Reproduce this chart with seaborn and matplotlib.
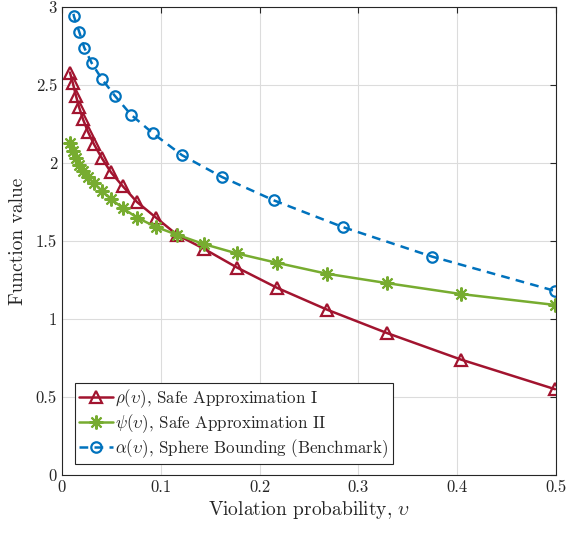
import matplotlib
matplotlib.use("Agg")
import matplotlib.pyplot as plt
import seaborn as sns
import pandas as pd

# Violation probability grid shared by the two safe approximations
v_safe = [0.0081, 0.0111, 0.0142, 0.0172, 0.0213, 0.0263, 0.0324, 0.0405,
          0.0496, 0.0617, 0.0759, 0.0951, 0.1164, 0.1437, 0.1771, 0.2176,
          0.2682, 0.3289, 0.4038, 0.4990]
rho = [2.58, 2.51, 2.43, 2.36, 2.28, 2.20, 2.12, 2.03, 1.94, 1.85,
       1.75, 1.65, 1.54, 1.45, 1.33, 1.20, 1.06, 0.91, 0.74, 0.55]
psi = [2.13, 2.08, 2.03, 1.99, 1.95, 1.91, 1.87, 1.82, 1.77, 1.71,
       1.65, 1.59, 1.54, 1.48, 1.42, 1.36, 1.29, 1.23, 1.16, 1.09]

# Sphere-bounding benchmark
v_sphere = [0.0085, 0.0121, 0.0175, 0.0225, 0.0301, 0.0402, 0.0536, 0.0698,
            0.0921, 0.1215, 0.1620, 0.2146, 0.2840, 0.3745, 0.4990]
alpha = [3.08, 2.94, 2.84, 2.74, 2.64, 2.54, 2.43, 2.31, 2.19, 2.05,
         1.91, 1.76, 1.59, 1.40, 1.18]

x_ticks = [0, 0.1, 0.2, 0.3, 0.4, 0.5]
y_ticks = [0, 0.5, 1, 1.5, 2, 2.5, 3]

labels = [r"$\rho(\upsilon)$, Safe Approximation I",
          r"$\psi(\upsilon)$, Safe Approximation II",
          r"$\alpha(\upsilon)$, Sphere Bounding (Benchmark)"]

sns.set_style("white")
plt.rcParams.update({
    "font.family": "serif",
    "font.serif": ["cmr10", "DejaVu Serif"],
    "mathtext.fontset": "cm",
    "axes.formatter.use_mathtext": True,
    "axes.unicode_minus": False,
})

RED = "#A2142F"
GREEN = "#77AC30"
BLUE = "#0072BD"

fig = plt.figure(figsize=(5.67, 5.34), dpi=100)
ax = fig.add_axes([0.1093, 0.1105, 0.8713, 0.8764])

df_rho = pd.DataFrame({"v": v_safe, "f": rho})
df_psi = pd.DataFrame({"v": v_safe, "f": psi})
df_alpha = pd.DataFrame({"v": v_sphere, "f": alpha})

sns.lineplot(data=df_rho, x="v", y="f", ax=ax, sort=False, estimator=None,
             color=RED, lw=1.8, marker="^", ms=8, mfc="none", mec=RED,
             mew=1.6, label=labels[0])
sns.lineplot(data=df_psi, x="v", y="f", ax=ax, sort=False, estimator=None,
             color=GREEN, lw=1.8, marker=(8, 2, 0), ms=10, mfc="none",
             mec=GREEN, mew=1.5, label=labels[1])
sns.lineplot(data=df_alpha, x="v", y="f", ax=ax, sort=False, estimator=None,
             color=BLUE, lw=1.8, marker="o", ms=7.5, mfc="none", mec=BLUE,
             mew=1.6, dashes=(3.5, 2.5), label=labels[2])

ax.set_xlim(0, 0.5)
ax.set_ylim(0, 3)
ax.set_xticks(x_ticks)
ax.set_yticks(y_ticks)
ax.set_xticklabels(["0", "0.1", "0.2", "0.3", "0.4", "0.5"])
ax.set_yticklabels(["0", "0.5", "1", "1.5", "2", "2.5", "3"])
ax.tick_params(direction="in", length=4, width=0.8, labelsize=12,
               top=True, right=True, colors="#262626", labelcolor="#262626")
ax.grid(True, color="#dcdcdc", linewidth=0.8)
ax.set_axisbelow(True)
for sp in ax.spines.values():
    sp.set_color("#262626")
    sp.set_linewidth(0.8)

ax.set_xlabel(r"Violation probability, $\upsilon$", fontsize=14,
              color="#262626", labelpad=3)
ax.set_ylabel("Function value", fontsize=14, color="#262626", labelpad=6)

leg = ax.legend(loc="lower left", bbox_to_anchor=(0.026, 0.024),
                borderaxespad=0, fontsize=12.2, frameon=True, fancybox=False,
                framealpha=1, edgecolor="#262626", handlelength=2.0,
                handletextpad=0.15, borderpad=0.25, labelspacing=0.12,
                numpoints=1)
leg.get_frame().set_linewidth(0.8)

fig.savefig("out.png", dpi=100)
